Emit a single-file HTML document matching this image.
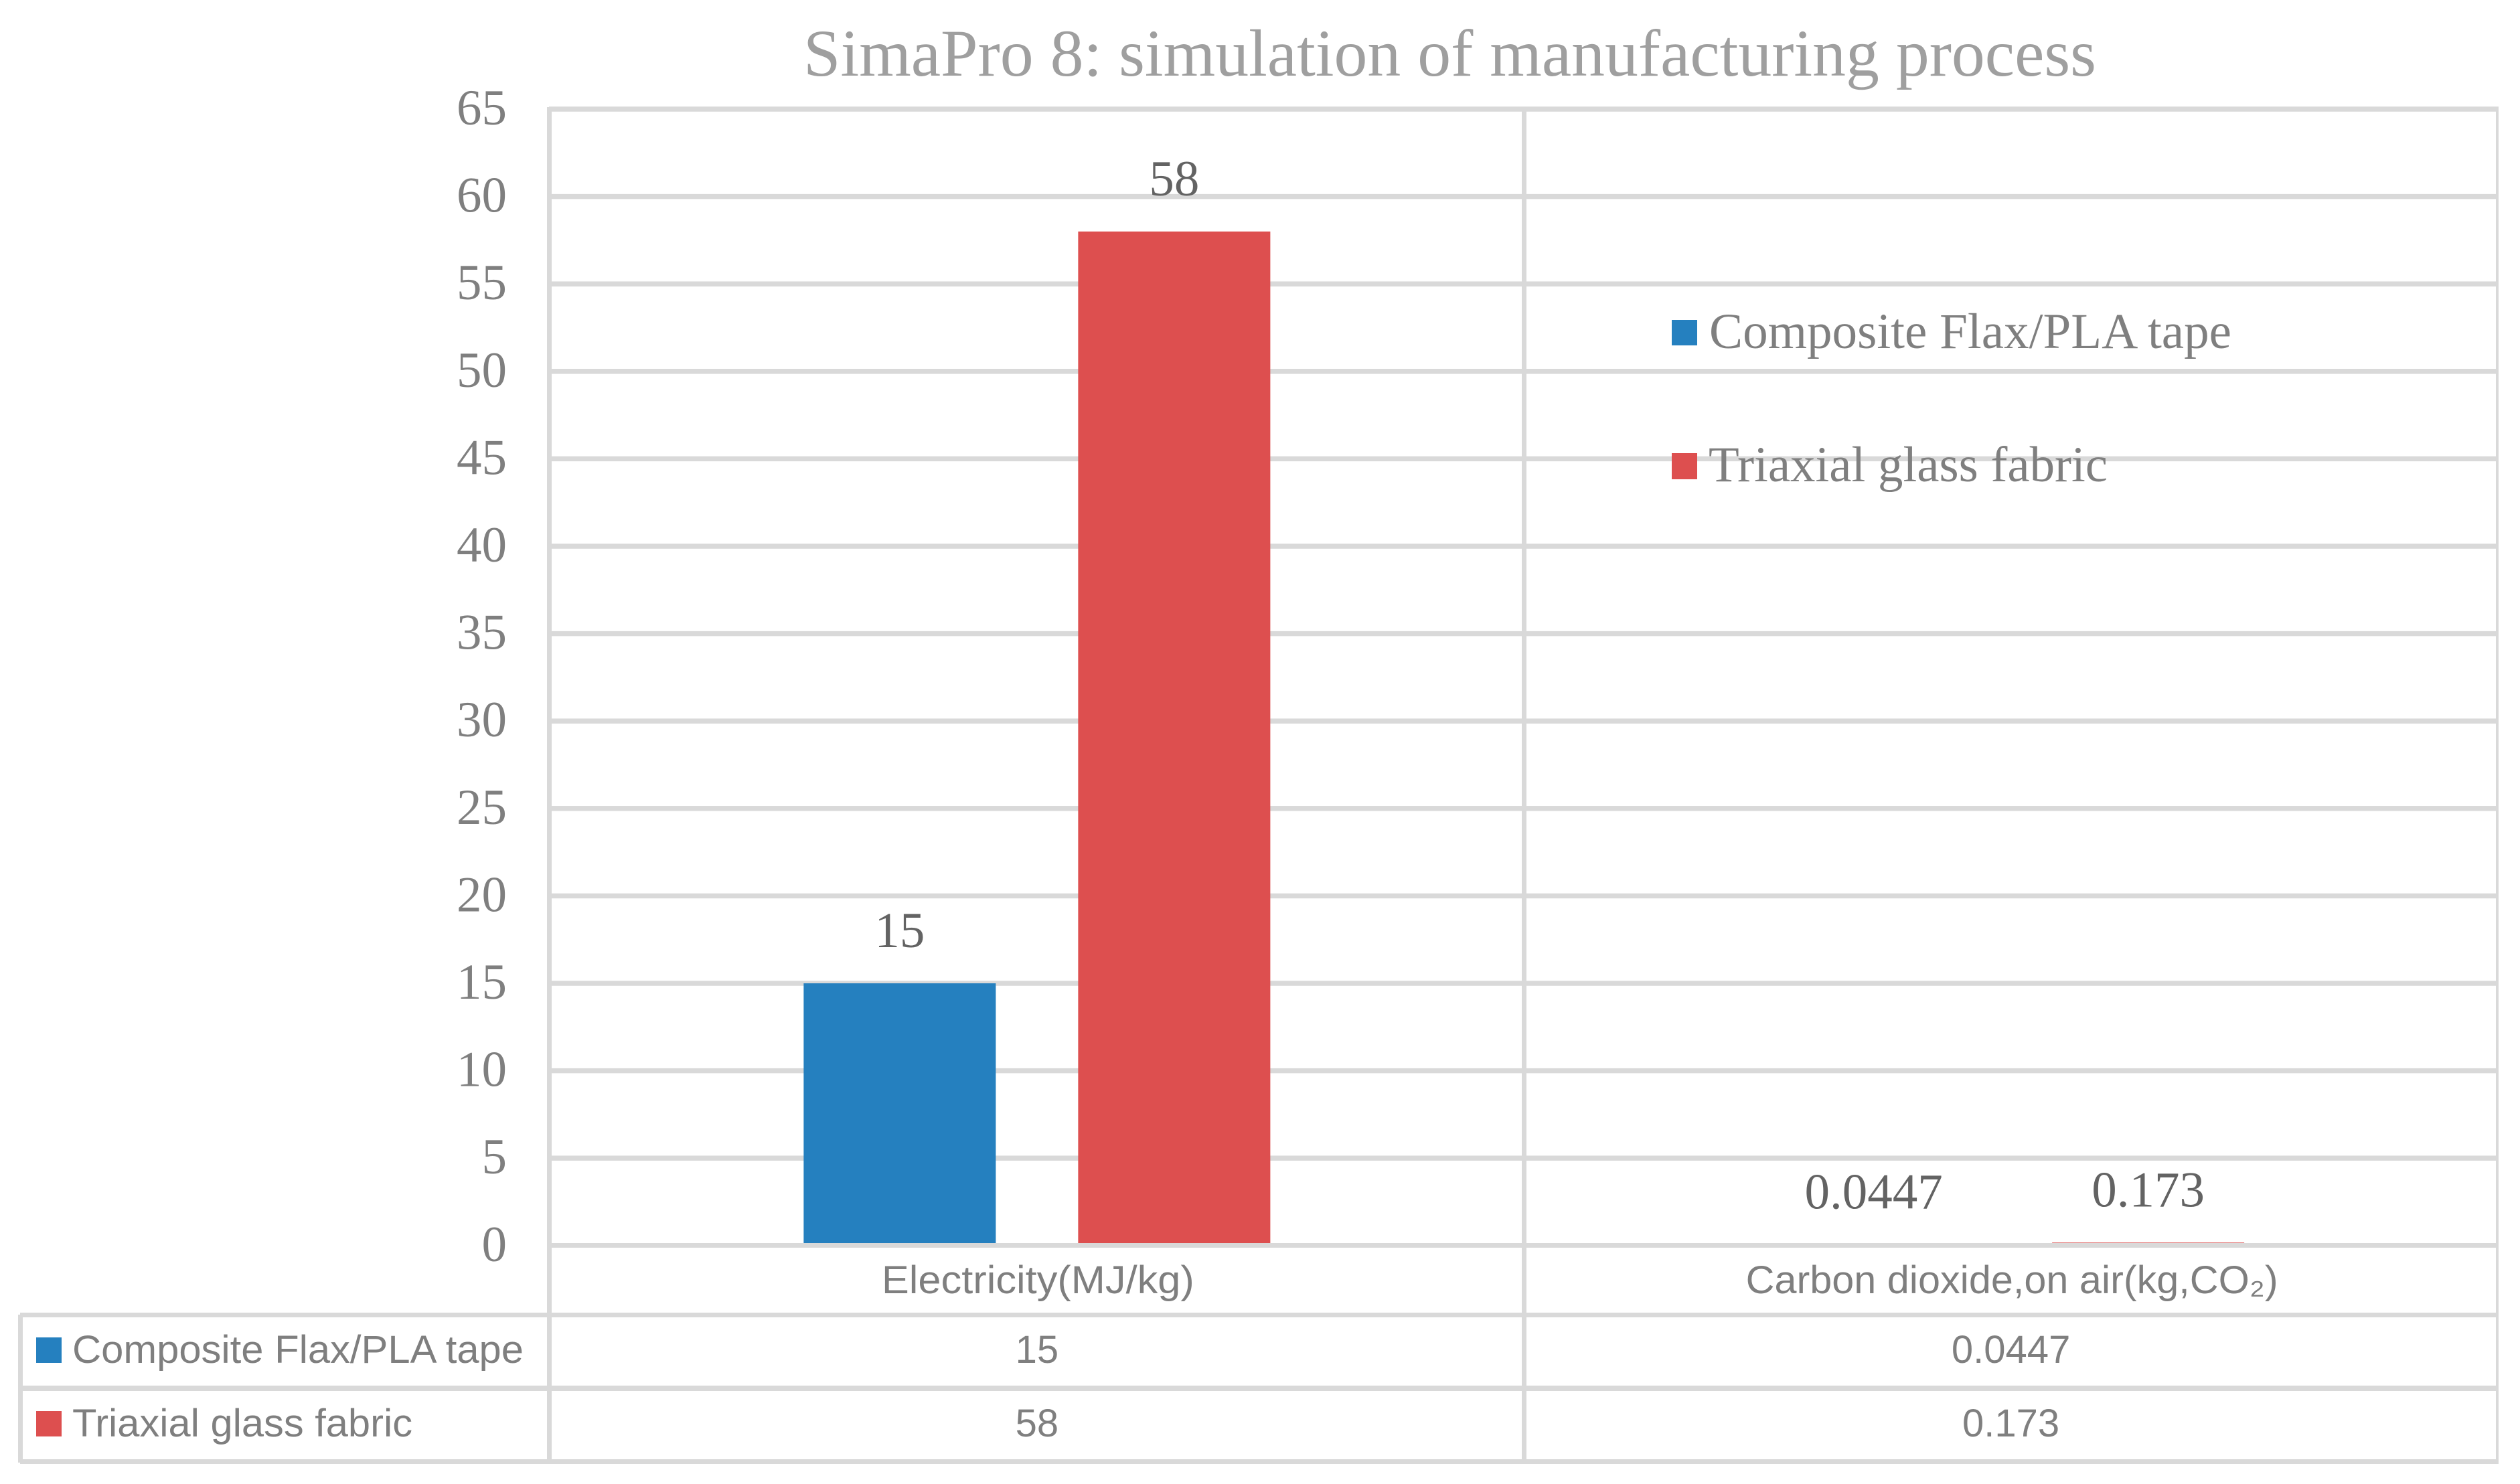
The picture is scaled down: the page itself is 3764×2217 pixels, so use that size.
<!DOCTYPE html>
<html>
<head>
<meta charset="utf-8">
<style>
html,body{margin:0;padding:0;background:#fff;width:3764px;height:2217px;overflow:hidden}
svg{display:block}
</style>
</head>
<body>
<svg id="chart" xmlns="http://www.w3.org/2000/svg" width="3764" height="2217" viewBox="0 0 3764 2217">
<rect x="0" y="0" width="3764" height="2217" fill="#ffffff"/>
<text x="2165.5" y="113" text-anchor="middle" textLength="1931" lengthAdjust="spacingAndGlyphs" font-family="'Liberation Serif',serif" font-size="100" fill="#9f9f9f">SimaPro 8: simulation of manufacturing process</text>
<g id="plot"></g>
<g>
<rect x="2497" y="478" width="38" height="38" fill="#2580bf"/>
<text x="2553" y="520" textLength="780" lengthAdjust="spacingAndGlyphs" font-family="'Liberation Serif',serif" font-size="75" fill="#7f7f7f">Composite Flax/PLA tape</text>
<rect x="2497" y="677" width="38" height="39" fill="#dd4f4f"/>
<text x="2552" y="719" textLength="596" lengthAdjust="spacingAndGlyphs" font-family="'Liberation Serif',serif" font-size="75" fill="#7f7f7f">Triaxial glass fabric</text>
</g>
</svg>
<script>
const categories = ['Electricity(MJ/kg)', 'Carbon dioxide,on air(kg,CO₂)'];
const seriesNames = ['Composite Flax/PLA tape', 'Triaxial glass fabric'];
const compositeValues = [15, 0.0447];
const triaxialValues = [58, 0.173];
const yTicks = [0, 5, 10, 15, 20, 25, 30, 35, 40, 45, 50, 55, 60, 65];

const NS = 'http://www.w3.org/2000/svg';
const plot = document.getElementById('plot');
const colors = ['#2580bf', '#dd4f4f'];
const seriesValues = [compositeValues, triaxialValues];
const plotLeft = 820.5;
const plotRight = 3730;
const zeroY = 1860.8;
const pxPerUnit = 26.12;
const catWidth = (plotRight - plotLeft) / categories.length;
const barWidth = 287;
const barOffset = 205;
const serif = "'Liberation Serif',serif";
const sans = "'Liberation Sans',sans-serif";

function yScale(v) { return zeroY - v * pxPerUnit; }
function catCenter(i) { return plotLeft + catWidth * (i + 0.5) + 1; }

function makeRect(x, y, w, h, fill) {
  const r = document.createElementNS(NS, 'rect');
  r.setAttribute('x', x);
  r.setAttribute('y', y);
  r.setAttribute('width', w);
  r.setAttribute('height', h);
  r.setAttribute('fill', fill);
  plot.appendChild(r);
  return r;
}
function makeText(str, x, y, anchor, family, size, fill, fitWidth) {
  const t = document.createElementNS(NS, 'text');
  t.setAttribute('x', x);
  t.setAttribute('y', y);
  t.setAttribute('text-anchor', anchor);
  t.setAttribute('font-family', family);
  t.setAttribute('font-size', size);
  t.setAttribute('fill', fill);
  if (fitWidth) {
    t.setAttribute('textLength', fitWidth);
    t.setAttribute('lengthAdjust', 'spacingAndGlyphs');
  }
  t.textContent = str;
  plot.appendChild(t);
  return t;
}

/* horizontal gridlines and y tick labels */
yTicks.forEach(function (tick) {
  if (tick !== 0) {
    const line = makeRect(820, yScale(tick) - 3.75, 3732 - 820, 7.5, '#d9d9d9');
    
    
  }
  const label = makeText(String(tick), 757, yScale(tick) + 23, 'end', serif, 75, '#7f7f7f');
  
  
});

/* bars and data labels */
seriesValues.forEach(function (values, s) {
  values.forEach(function (v, c) {
    const cx = catCenter(c) + (s === 0 ? -barOffset : barOffset);
    const bar = makeRect(cx - barWidth / 2, yScale(v), barWidth, v * pxPerUnit, colors[s]);
    
    
    const dl = makeText(String(v), cx, yScale(v) - 54, 'middle', serif, 75, '#636363');
    
    
  });
});

/* axis + data table rules */
const zeroLine = makeRect(820, 1857, 3732 - 820, 7, '#d9d9d9');



[[1961, 7], [2070, 8], [2180, 7]].forEach(function (d, i) {
  const rule = makeRect(30, d[0], 3732 - 30, d[1], '#d9d9d9');
  
  
});
[[27, 1964, 7], [817, 160, 7], [2273, 160, 7], [3728, 160, 4]].forEach(function (d, i) {
  const rule = makeRect(d[0], d[1], d[2], 2185 - d[1], '#d9d9d9');
  
  
});

/* category labels */
const catFit = [467, 795];
categories.forEach(function (name, c) {
  const lbl = makeText(name, catCenter(c) + 1.5, 1932, 'middle', sans, 58, '#7f7f7f', catFit[c]);
  
  
});

/* data table */
const rowBaselines = [2036, 2146];
const rowFit = [674, 508];
seriesNames.forEach(function (name, s) {
  const sw = makeRect(54, rowBaselines[s] - 38, 38, 38, colors[s]);
  
  
  const head = makeText(name, 108, rowBaselines[s], 'start', sans, 58, '#7f7f7f', rowFit[s]);
  
  
  seriesValues[s].forEach(function (v, c) {
    const cell = makeText(String(v), catCenter(c), rowBaselines[s], 'middle', sans, 58, '#7f7f7f');
    
    
  });
});
</script>
</body>
</html>
